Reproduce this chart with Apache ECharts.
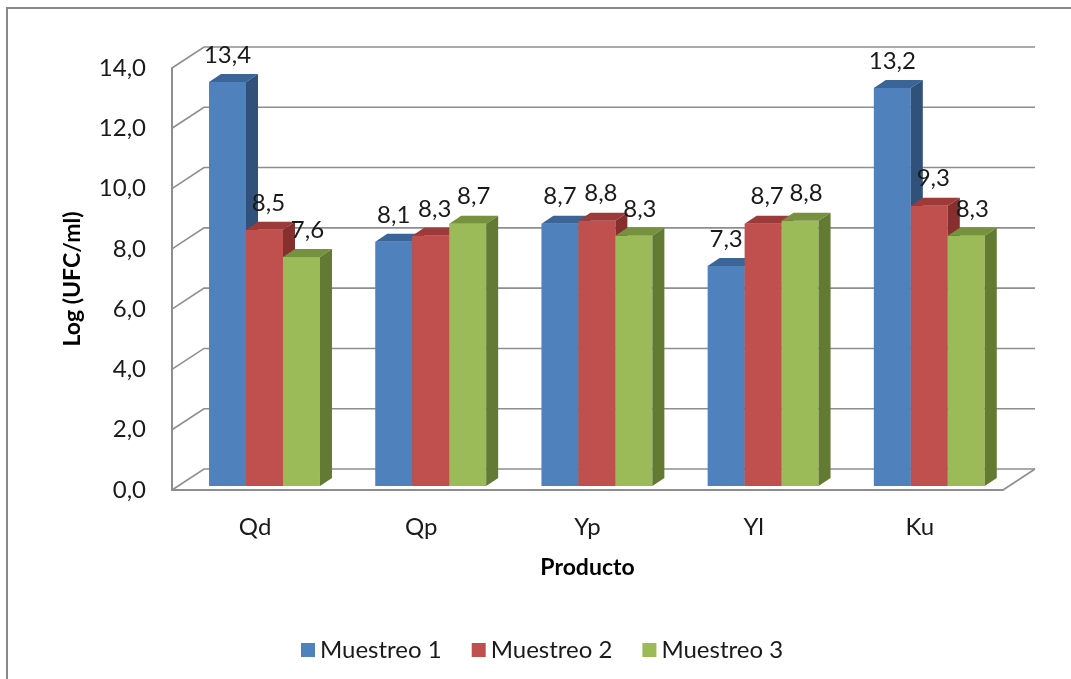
<!DOCTYPE html>
<html>
<head>
<meta charset="utf-8">
<script src="https://cdn.jsdelivr.net/npm/echarts@6/dist/echarts.min.js"></script>
<style>
  html, body { margin: 0; padding: 0; background: #fff; }
  #chart { width: 1071px; height: 679px; }
</style>
</head>
<body>
<div id="chart"></div>
<script>
const categories = ['Qd', 'Qp', 'Yp', 'Yl', 'Ku'];
const muestreo1 = [13.4, 8.1, 8.7, 7.3, 13.2];
const muestreo2 = [8.5, 8.3, 8.8, 8.7, 9.3];
const muestreo3 = [7.6, 8.7, 8.3, 8.8, 8.3];
const yTicks = [0, 2, 4, 6, 8, 10, 12, 14];

const FONT = 'Lato, "Liberation Sans", sans-serif';
const GRID_COLOR = '#8e8e8e';

// depth of the back wall and of each bar (pseudo 3d)
const WALL_DX = 32, WALL_DY = -21;
const BAR_DX = 12, BAR_DY = -8;

const fmt = v => v.toFixed(1).replace('.', ',');

const palette = [
  { front: '#4f81bd', top: '#3c6597', side: '#30517a' },
  { front: '#c0504d', top: '#9c3b39', side: '#85302e' },
  { front: '#9bbb59', top: '#77923f', side: '#637a33' }
];
const labelShift = [0, 4, 6];

function renderWall(params, api) {
  const cs = params.coordSys;
  const y = api.coord([0, api.value(0)])[1];
  const left = cs.x, right = cs.x + cs.width;
  const style = { stroke: GRID_COLOR, lineWidth: 1.6, fill: null };
  const children = [
    { type: 'polyline', shape: { points: [[left, y], [left + WALL_DX, y + WALL_DY], [right + WALL_DX, y + WALL_DY]] }, style }
  ];
  if (params.dataIndex === 0) {
    children.push({ type: 'line', shape: { x1: right, y1: y, x2: right + WALL_DX, y2: y + WALL_DY }, style });
  }
  return { type: 'group', children };
}

function makeBarRenderer(si) {
  return function (params, api) {
    const idx = api.value(0);
    const val = api.value(1);
    const c = api.coord([idx, val]);
    const base = api.coord([idx, 0])[1] - 4;
    const top = c[1] - 4;
    const band = api.size([1, 0])[0];
    const w = band * 0.2225;
    const x = c[0] + 9.4 - 1.5 * w + si * w;
    const col = palette[si];
    return {
      type: 'group',
      children: [
        { type: 'rect', shape: { x: x, y: top, width: w, height: base - top }, style: { fill: col.front } },
        { type: 'polygon', shape: { points: [[x, top], [x + BAR_DX, top + BAR_DY], [x + w + BAR_DX, top + BAR_DY], [x + w, top]] }, style: { fill: col.top } },
        { type: 'polygon', shape: { points: [[x + w, top], [x + w + BAR_DX, top + BAR_DY], [x + w + BAR_DX, base + BAR_DY], [x + w, base]] }, style: { fill: col.side } },
        { type: 'text', x: x + w / 2 + labelShift[si], y: top - 27, style: { text: fmt(val), font: '24px ' + FONT, fill: '#1a1a1a', align: 'center', verticalAlign: 'middle' } }
      ]
    };
  };
}

const names = ['Muestreo 1', 'Muestreo 2', 'Muestreo 3'];
const values = [muestreo1, muestreo2, muestreo3];

const chart = echarts.init(document.getElementById('chart'));

const options = {
  backgroundColor: '#fff',
  animation: false,
  textStyle: { fontFamily: FONT },
  graphic: [
    { type: 'rect', shape: { x: 7, y: 8, width: 1200, height: 800 }, style: { fill: null, stroke: '#8a8a8a', lineWidth: 2 } }
  ],
  legend: {
    left: 296,
    top: 633,
    itemWidth: 14,
    itemHeight: 14,
    itemGap: 30,
    icon: 'rect',
    textStyle: { fontSize: 24, color: '#1a1a1a', fontFamily: FONT },
    data: names
  },
  grid: { left: 172, right: 68, top: 68, bottom: 189 },
  xAxis: {
    type: 'category',
    data: categories,
    name: 'Producto',
    nameLocation: 'middle',
    nameGap: 66,
    nameTextStyle: { fontSize: 23, fontWeight: 'bold', color: '#000', fontFamily: FONT },
    axisLine: { show: true, lineStyle: { color: GRID_COLOR, width: 2 } },
    axisTick: { show: false },
    axisLabel: { fontSize: 24, color: '#1a1a1a', margin: 25, fontFamily: FONT },
    splitLine: { show: false }
  },
  yAxis: {
    type: 'value',
    min: 0,
    max: 14,
    interval: 2,
    name: 'Log (UFC/ml)',
    nameLocation: 'middle',
    nameGap: 88,
    nameTextStyle: { fontSize: 23, fontWeight: 'bold', color: '#000', fontFamily: FONT },
    axisLine: { show: true, lineStyle: { color: GRID_COLOR, width: 2 } },
    axisTick: { show: false },
    axisLabel: { fontSize: 24, color: '#1a1a1a', margin: 26, fontFamily: FONT, formatter: fmt },
    splitLine: { show: false }
  },
  series: [
    {
      type: 'custom',
      name: 'wall',
      silent: true,
      z: 1,
      renderItem: renderWall,
      encode: { y: 0 },
      data: yTicks.map(v => [v])
    }
  ].concat(values.map((arr, si) => ({
    type: 'custom',
    name: names[si],
    z: 2,
    itemStyle: { color: palette[si].front },
    renderItem: makeBarRenderer(si),
    encode: { x: 0, y: 1 },
    data: arr.map((v, i) => [i, v])
  })))
};

chart.setOption(options);
</script>
</body>
</html>
